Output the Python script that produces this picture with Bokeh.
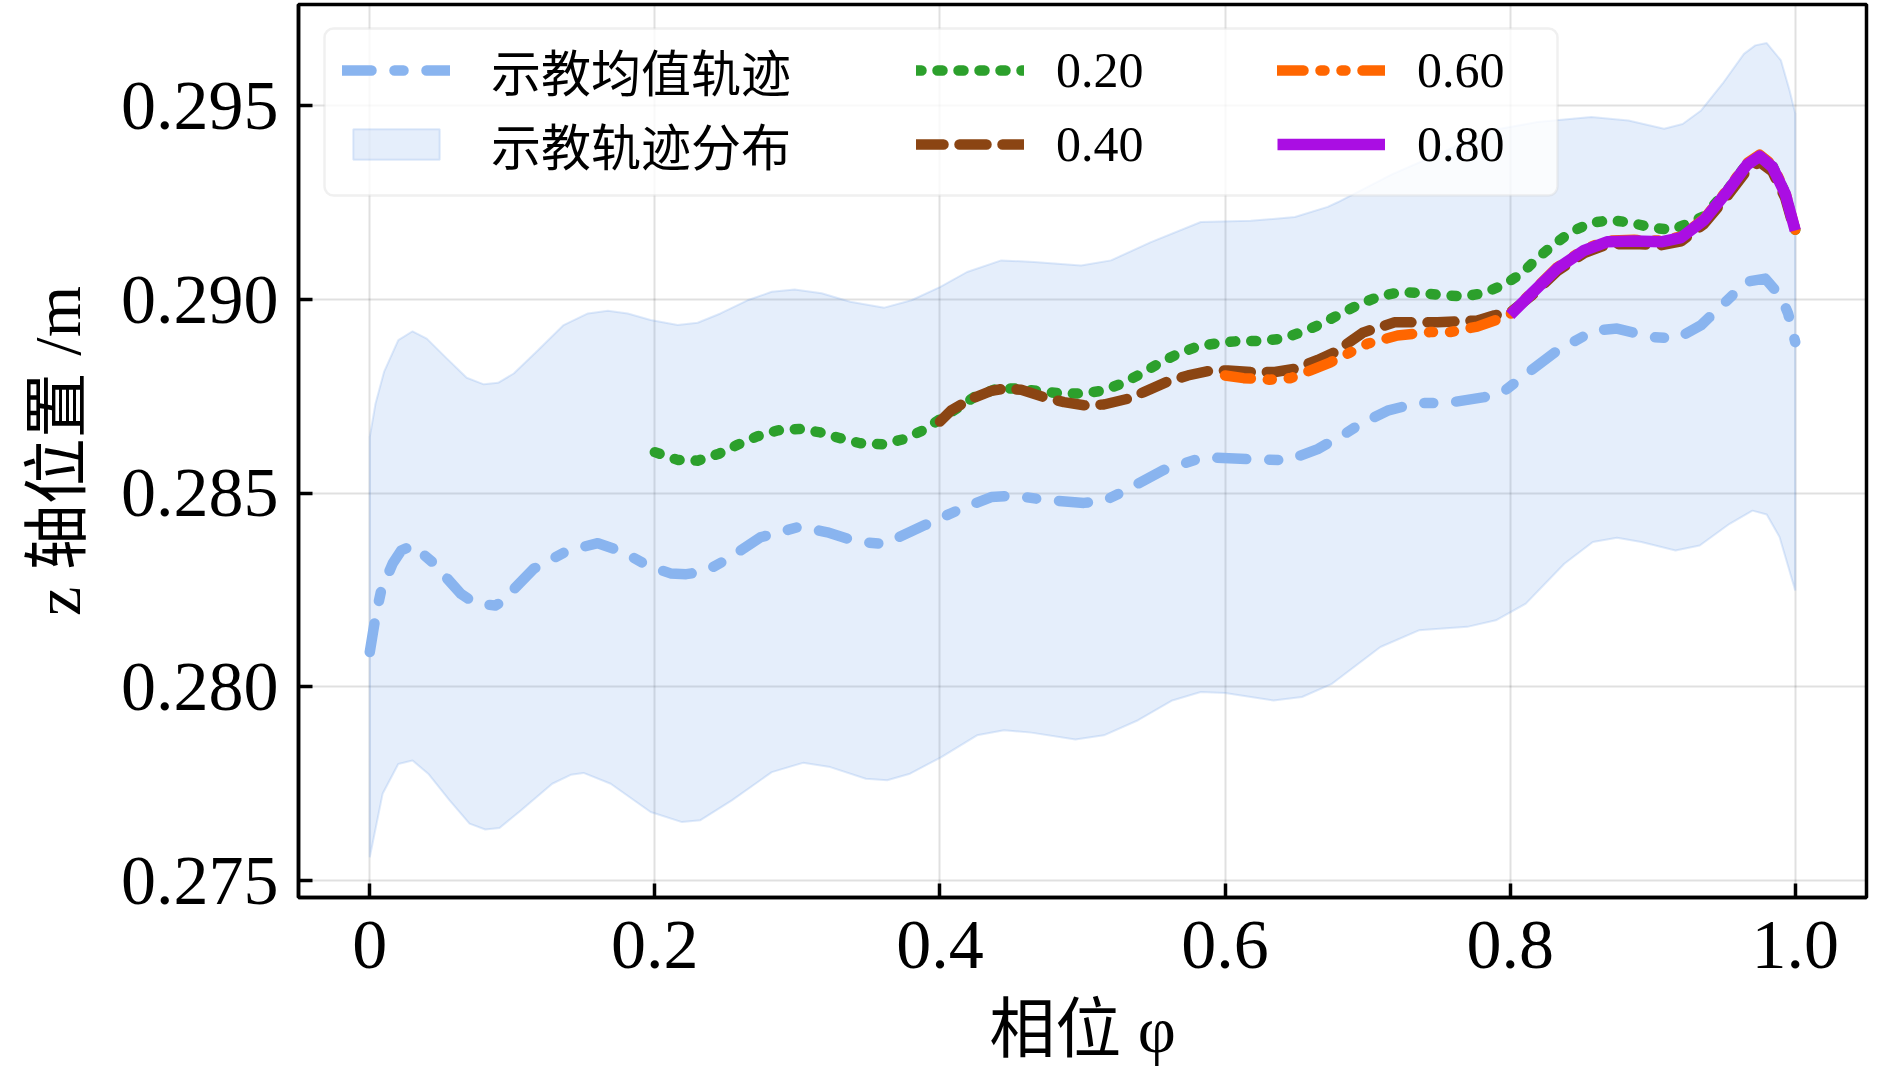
from bokeh.plotting import figure
from bokeh.models import Legend, LegendItem, BoxAnnotation, FixedTicker, Range1d
from bokeh.embed import file_html
from bokeh.resources import INLINE

# ---------------- data ----------------
x_ticks = [0.0, 0.2, 0.4, 0.6, 0.8, 1.0]
x_tick_labels = ["0", "0.2", "0.4", "0.6", "0.8", "1.0"]
y_ticks = [0.275, 0.280, 0.285, 0.290, 0.295]
y_tick_labels = ["0.275", "0.280", "0.285", "0.290", "0.295"]

mean_phi = [0.000, 0.004, 0.008, 0.016, 0.022, 0.030, 0.044, 0.064, 0.074, 0.088, 0.092,
            0.115, 0.139, 0.160, 0.178, 0.195, 0.211, 0.222, 0.235, 0.251, 0.274, 0.302,
            0.321, 0.342, 0.361, 0.389, 0.415, 0.436, 0.452, 0.473, 0.501, 0.515, 0.530,
            0.557, 0.585, 0.615, 0.644, 0.665, 0.684, 0.695, 0.714, 0.735, 0.756, 0.782,
            0.796, 0.810, 0.833, 0.859, 0.875, 0.899, 0.917, 0.934, 0.950, 0.966, 0.979,
            0.990, 0.995, 1.000]
mean_z = [0.28090, 0.28180, 0.28249, 0.28318, 0.28352, 0.28365, 0.28322, 0.28240, 0.28216,
          0.28210, 0.28218, 0.28305, 0.28352, 0.28371, 0.28348, 0.28313, 0.28293, 0.28291,
          0.28298, 0.28330, 0.28386, 0.28414, 0.28399, 0.28375, 0.28369, 0.28417, 0.28460,
          0.28490, 0.28494, 0.28483, 0.28475, 0.28480, 0.28507, 0.28560, 0.28593, 0.28588,
          0.28585, 0.28614, 0.28653, 0.28679, 0.28713, 0.28733, 0.28733, 0.28748, 0.28764,
          0.28804, 0.28868, 0.28920, 0.28925, 0.28903, 0.28899, 0.28934, 0.28990, 0.29046,
          0.29054, 0.29007, 0.28964, 0.28890]

band_up_phi = [0.000, 0.004, 0.010, 0.020, 0.030, 0.040, 0.054, 0.068, 0.080, 0.090, 0.101,
               0.118, 0.136, 0.153, 0.167, 0.181, 0.197, 0.216, 0.230, 0.246, 0.265, 0.282,
               0.298, 0.317, 0.337, 0.361, 0.380, 0.400, 0.419, 0.443, 0.466, 0.499, 0.520,
               0.548, 0.583, 0.618, 0.649, 0.672, 0.679, 0.717, 0.755, 0.786, 0.819, 0.857,
               0.883, 0.908, 0.921, 0.934, 0.949, 0.964, 0.972, 0.980, 0.990, 0.996, 1.000]
band_up = [0.28645, 0.28731, 0.28813, 0.28895, 0.28918, 0.28899, 0.28848, 0.28798, 0.28781,
           0.28785, 0.28809, 0.28869, 0.28934, 0.28964, 0.28971, 0.28964, 0.28947, 0.28934,
           0.28940, 0.28964, 0.28998, 0.29020, 0.29026, 0.29016, 0.28994, 0.28979, 0.28998,
           0.29032, 0.29071, 0.29101, 0.29097, 0.29088, 0.29101, 0.29148, 0.29200, 0.29203,
           0.29213, 0.29239, 0.29251, 0.29323, 0.29384, 0.29436, 0.29458, 0.29471, 0.29462,
           0.29441, 0.29453, 0.29488, 0.29557, 0.29634, 0.29656, 0.29662, 0.29617, 0.29540,
           0.29480]

band_lo_phi = [0.000, 0.009, 0.020, 0.030, 0.041, 0.056, 0.070, 0.081, 0.091, 0.106, 0.128,
               0.141, 0.150, 0.169, 0.197, 0.219, 0.232, 0.254, 0.282, 0.304, 0.323, 0.348,
               0.363, 0.379, 0.401, 0.426, 0.445, 0.464, 0.495, 0.515, 0.539, 0.563, 0.583,
               0.600, 0.634, 0.654, 0.675, 0.709, 0.736, 0.770, 0.790, 0.811, 0.838, 0.858,
               0.875, 0.892, 0.916, 0.933, 0.954, 0.970, 0.980, 0.989, 1.000]
band_lo = [0.27560, 0.27724, 0.27801, 0.27810, 0.27776, 0.27707, 0.27647, 0.27632, 0.27636,
           0.27681, 0.27750, 0.27773, 0.27778, 0.27750, 0.27677, 0.27651, 0.27656, 0.27707,
           0.27780, 0.27804, 0.27793, 0.27763, 0.27759, 0.27776, 0.27819, 0.27875, 0.27888,
           0.27882, 0.27864, 0.27875, 0.27914, 0.27965, 0.27987, 0.27984, 0.27965, 0.27974,
           0.28008, 0.28103, 0.28146, 0.28155, 0.28172, 0.28215, 0.28318, 0.28374, 0.28385,
           0.28374, 0.28352, 0.28365, 0.28421, 0.28455, 0.28445, 0.28387, 0.28249]

g20_phi = [0.200, 0.216, 0.230, 0.245, 0.258, 0.272, 0.286, 0.301, 0.316, 0.330, 0.344,
           0.360, 0.374, 0.388, 0.398, 0.424, 0.440, 0.455, 0.468, 0.484, 0.499, 0.513,
           0.527, 0.541, 0.554, 0.567, 0.581, 0.596, 0.610, 0.625, 0.640, 0.654, 0.667,
           0.681, 0.695, 0.709, 0.723, 0.737, 0.753, 0.768, 0.782, 0.796, 0.808, 0.819,
           0.831, 0.843, 0.857, 0.871, 0.885, 0.900, 0.914, 0.927, 0.936, 0.953, 0.966,
           0.975, 0.984, 0.993, 1.000]
g20_z = [0.28606, 0.28586, 0.28584, 0.28602, 0.28625, 0.28647, 0.28662, 0.28666, 0.28657,
         0.28642, 0.28629, 0.28626, 0.28639, 0.28662, 0.28686, 0.28748, 0.28770, 0.28770,
         0.28764, 0.28758, 0.28757, 0.28764, 0.28782, 0.28808, 0.28836, 0.28860, 0.28879,
         0.28888, 0.28893, 0.28893, 0.28899, 0.28916, 0.28936, 0.28963, 0.28989, 0.29009,
         0.29019, 0.29017, 0.29011, 0.29008, 0.29017, 0.29039, 0.29067, 0.29106, 0.29143,
         0.29175, 0.29198, 0.29205, 0.29198, 0.29185, 0.29180, 0.29200, 0.29215, 0.29285,
         0.29350, 0.29370, 0.29345, 0.29275, 0.29180]

g40_phi = [0.400, 0.408, 0.422, 0.436, 0.445, 0.457, 0.473, 0.487, 0.501, 0.515, 0.532,
           0.543, 0.559, 0.574, 0.588, 0.602, 0.618, 0.635, 0.649, 0.665, 0.677, 0.688,
           0.697, 0.719, 0.749, 0.777, 0.789, 0.800, 0.815, 0.833, 0.852, 0.868, 0.887,
           0.906, 0.920, 0.936, 0.953, 0.966, 0.975, 0.984, 0.993, 1.000]
g40_z = [0.28685, 0.28714, 0.28744, 0.28764, 0.28770, 0.28767, 0.28748, 0.28735, 0.28727,
         0.28729, 0.28744, 0.28761, 0.28787, 0.28804, 0.28815, 0.28817, 0.28813, 0.28813,
         0.28821, 0.28844, 0.28864, 0.28892, 0.28915, 0.28941, 0.28941, 0.28946, 0.28959,
         0.28966, 0.29010, 0.29073, 0.29120, 0.29142, 0.29143, 0.29140, 0.29150, 0.29195,
         0.29270, 0.29333, 0.29355, 0.29330, 0.29262, 0.29172]

g60_phi = [0.600, 0.613, 0.631, 0.646, 0.660, 0.674, 0.687, 0.700, 0.721, 0.744, 0.758,
           0.777, 0.791, 0.800, 0.815, 0.833, 0.852, 0.868, 0.887, 0.906, 0.920, 0.936,
           0.953, 0.966, 0.975, 0.984, 0.993, 1.000]
g60_z = [0.28804, 0.28797, 0.28793, 0.28797, 0.28817, 0.28838, 0.28862, 0.28886, 0.28907,
         0.28916, 0.28916, 0.28930, 0.28948, 0.28962, 0.29018, 0.29083, 0.29130, 0.29152,
         0.29154, 0.29152, 0.29163, 0.29208, 0.29286, 0.29352, 0.29374, 0.29348, 0.29278,
         0.29180]

g80_phi = [0.800, 0.815, 0.833, 0.852, 0.868, 0.887, 0.906, 0.920, 0.936, 0.953, 0.966,
           0.975, 0.984, 0.993, 1.000]
g80_z = [0.28960, 0.29015, 0.29080, 0.29127, 0.29149, 0.29151, 0.29149, 0.29160, 0.29205,
         0.29282, 0.29347, 0.29370, 0.29342, 0.29273, 0.29178]

legend_labels = ["示教均值轨迹", "示教轨迹分布", "0.20", "0.40", "0.60", "0.80"]
x_label = "相位 φ"
y_label = "z 轴位置 /m"

# ---------------- layout / style ----------------
FIG_W, FIG_H = 1874, 1070
X0, X1 = -0.05, 1.05
FRAME_L, FRAME_T, FRAME_W, FRAME_H = 298, 4, 1568, 893   # px in the picture
Y1 = 0.297615
Y0 = 0.274564
FONT = "Liberation Serif, Noto Sans CJK SC"

BLUE = "#89b4ef"
BAND = "#6f9fe8"
GREEN = "#2ca02c"
BROWN = "#8b4513"
ORANGE = "#ff6600"
PURPLE = "#aa0ee3"


def sx2x(sx):
    return X0 + (sx - FRAME_L) / FRAME_W * (X1 - X0)


def sy2y(sy):
    return Y1 - (sy - FRAME_T) / FRAME_H * (Y1 - Y0)


p = figure(width=FIG_W, height=FIG_H, output_backend="svg", toolbar_location=None,
           x_range=Range1d(X0, X1), y_range=Range1d(Y0, Y1),
           min_border_left=FRAME_L, min_border_right=FIG_W - FRAME_L - FRAME_W,
           min_border_top=FRAME_T, min_border_bottom=FIG_H - FRAME_T - FRAME_H)
p.background_fill_color = "white"
p.border_fill_color = "white"
p.outline_line_color = "black"
p.outline_line_width = 3.5

for ax in (p.xaxis[0], p.yaxis[0]):
    ax.axis_line_width = 3.5
    ax.axis_line_color = "black"
    ax.major_tick_in = 14
    ax.major_tick_out = 0
    ax.major_tick_line_width = 3.5
    ax.minor_tick_line_color = None
    ax.major_label_text_font = FONT
    ax.major_label_text_font_size = "70px"
    ax.major_label_text_color = "black"
    ax.axis_label_text_font = FONT
    ax.axis_label_text_font_size = "66px"
    ax.axis_label_text_font_style = "normal"
    ax.axis_label_text_color = "black"

p.xaxis.ticker = FixedTicker(ticks=x_ticks)
p.xaxis.major_label_overrides = {t: s for t, s in zip(x_ticks, x_tick_labels)}
p.yaxis.ticker = FixedTicker(ticks=y_ticks)
p.yaxis.major_label_overrides = {t: s for t, s in zip(y_ticks, y_tick_labels)}
p.xaxis.major_label_standoff = 24
p.yaxis.major_label_standoff = 20
p.xaxis.axis_label = x_label
p.yaxis.axis_label = y_label
p.xaxis.axis_label_standoff = 22
p.yaxis.axis_label_standoff = 24

for g in (p.xgrid[0], p.ygrid[0]):
    g.grid_line_color = "black"
    g.grid_line_alpha = 0.12
    g.grid_line_width = 2

# ---------------- glyphs ----------------
band_x = list(band_up_phi) + list(reversed(band_lo_phi))
band_y = list(band_up) + list(reversed(band_lo))
r_band = p.patch(band_x, band_y, fill_color=BAND, fill_alpha=0.18,
                 line_color=BAND, line_alpha=0.22, line_width=2)

r_mean = p.line(mean_phi, mean_z, line_color=BLUE, line_width=10.5,
                line_dash="29 23 9 23", line_cap="round", line_join="round")
r20 = p.line(g20_phi, g20_z, line_color=GREEN, line_width=10.5,
             line_dash="5 16", line_cap="round", line_join="round")
r40 = p.line(g40_phi, g40_z, line_color=BROWN, line_width=10.5,
             line_dash="27 16", line_cap="round", line_join="round")
r60 = p.line(g60_phi, g60_z, line_color=ORANGE, line_width=10.5,
             line_dash="26 17 4 17 4 17", line_cap="round", line_join="round")
r80 = p.line(g80_phi, g80_z, line_color=PURPLE, line_width=11.5,
             line_cap="butt", line_join="round")

# ---------------- legend ----------------
box = BoxAnnotation(left=sx2x(324), right=sx2x(1557), top=sy2y(28), bottom=sy2y(195),
                    fill_color="white", fill_alpha=0.8,
                    line_color="#cccccc", line_width=2.5)
try:
    box.border_radius = 9
except Exception:
    pass
p.add_layout(box)

ROW_H = 74
LEG_H = ROW_H * 2
leg_top = 70.2 - ROW_H / 2
vy = (FRAME_T + FRAME_H) - leg_top - LEG_H

groups = [
    ([(legend_labels[0], r_mean), (legend_labels[1], r_band)], 342, 41),
    ([(legend_labels[2], r20), (legend_labels[3], r40)], 916, 32),
    ([(legend_labels[4], r60), (legend_labels[5], r80)], 1277, 32),
]
for items, gx, standoff in groups:
    leg = Legend(items=[LegendItem(label=l, renderers=[r]) for l, r in items],
                 location=(gx - FRAME_L, vy), orientation="vertical",
                 padding=0, margin=0, spacing=0,
                 glyph_width=108, glyph_height=38, label_height=ROW_H,
                 label_standoff=standoff, label_text_font=FONT,
                 label_text_font_size="50px", label_text_color="black",
                 background_fill_alpha=0, border_line_alpha=0)
    p.add_layout(leg)

open("out.html", "w").write(file_html(p, INLINE))
